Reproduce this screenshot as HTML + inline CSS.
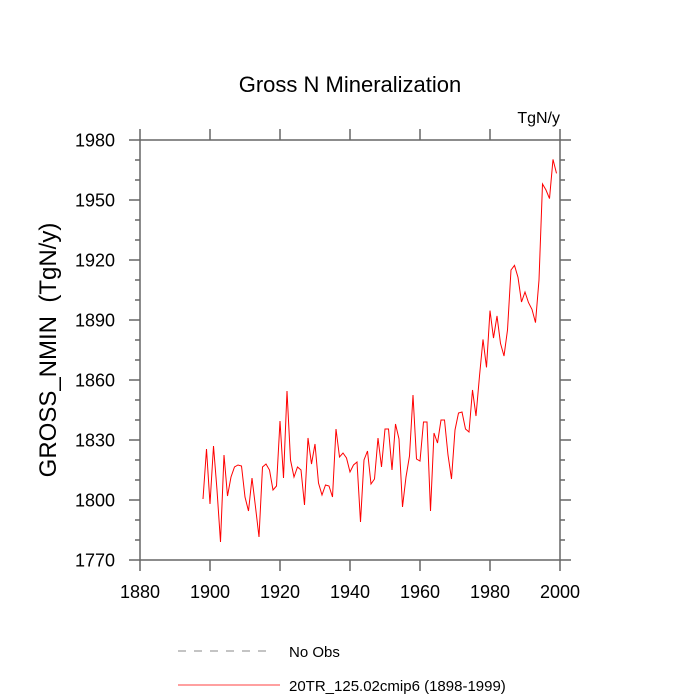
<!DOCTYPE html>
<html><head><meta charset="utf-8"><style>
body{margin:0;background:#fff}
svg{display:block;font-family:"Liberation Sans",sans-serif}
</style></head><body>
<svg id="chart" width="700" height="700">
<text x="350" y="92" font-size="22" text-anchor="middle">Gross N Mineralization</text>
<text x="560" y="123" font-size="16" text-anchor="end">TgN/y</text>
<text transform="translate(56,350) rotate(-90)" font-size="24" text-anchor="middle" xml:space="preserve">GROSS_NMIN  (TgN/y)</text>
<g id="axes"></g>
<rect x="140" y="140" width="420" height="420" fill="none" stroke="#666" stroke-width="1.5"/>
<path id="series" fill="none" stroke="#f00" stroke-width="1"/>
<line x1="178" y1="651" x2="272" y2="651" stroke="#888" stroke-dasharray="8,8"/>
<text x="289" y="657" font-size="15">No Obs</text>
<line x1="178" y1="685" x2="280" y2="685" stroke="#f00" stroke-width="0.8"/>
<text x="289" y="691" font-size="15">20TR_125.02cmip6 (1898-1999)</text>
</svg>
<script>
const startYear = 1898;
const values = [1800.5,1825.5,1798,1827,1805,1779,1822.5,1802,1811.5,1816.5,1817.5,1817,1801.5,1794.5,1811,1796.5,1781.5,1816.5,1818,1815,1805,1807,1839.5,1811,1854.5,1820,1811.5,1816.5,1815,1797.5,1831,1818,1828,1808.5,1802.5,1807.5,1807,1801.5,1835.5,1821.5,1823.5,1821,1814,1817.5,1819,1789,1820,1824.5,1808,1810.5,1831,1816.5,1835.5,1835.5,1815,1838,1830.5,1796.5,1811.5,1822,1852.5,1820.5,1819.5,1839,1839,1794.5,1833.5,1828.5,1840,1840,1822.5,1810.5,1835,1843.5,1844,1835.5,1834,1855,1842,1862,1880.3,1866.3,1894.7,1881,1892,1878.3,1872,1885,1915,1917.3,1911.3,1899,1904,1898.7,1895.3,1888.7,1910,1958,1955,1950.7,1970.3,1963.3];
const xTicks = [1880,1900,1920,1940,1960,1980,2000];
const yTicks = [1770,1800,1830,1860,1890,1920,1950,1980];
const NS='http://www.w3.org/2000/svg';
const X=v=>140+(v-1880)*420/120, Y=v=>560-(v-1770)*420/210;
const g=document.getElementById('axes');
function ln(x1,y1,x2,y2){const l=document.createElementNS(NS,'line');
l.setAttribute('x1',x1);l.setAttribute('y1',y1);l.setAttribute('x2',x2);l.setAttribute('y2',y2);
l.setAttribute('stroke','#666');l.setAttribute('stroke-width',1.5);


g.appendChild(l);}
function tx(x,y,s,a,name){const t=document.createElementNS(NS,'text');
t.setAttribute('x',x);t.setAttribute('y',y);t.setAttribute('font-size','18');t.setAttribute('text-anchor',a);t.textContent=s;


g.appendChild(t);}
xTicks.forEach(v=>{ln(X(v),560,X(v),571);ln(X(v),140,X(v),129);});
for(let v=1770;v<=1980;v+=10){const L=yTicks.includes(v)?11:5;
ln(140,Y(v),140-L,Y(v));ln(560,Y(v),560+L,Y(v));}
xTicks.forEach(v=>tx(X(v),598,String(v),'middle','x-tick-label'));
yTicks.forEach(v=>tx(115,Y(v)+6.5,String(v),'end','y-tick-label'));
document.getElementById('series').setAttribute('d',values.map((v,i)=>(i?'L':'M')+X(startYear+i).toFixed(1)+','+Y(v).toFixed(1)).join(''));
</script>
</body></html>
